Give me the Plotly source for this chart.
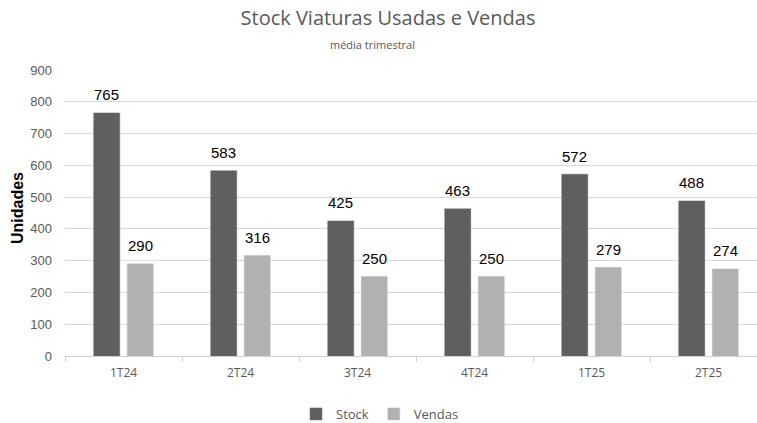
import plotly.graph_objects as go

categories = ["1T24", "2T24", "3T24", "4T24", "1T25", "2T25"]
stock = [765, 583, 425, 463, 572, 488]
vendas = [290, 316, 250, 250, 279, 274]
y_ticks = [0, 100, 200, 300, 400, 500, 600, 700, 800, 900]

W, H = 757, 423
L, R, T, B = 65, 0, 70, 67
pw = W - L - R
ph = H - T - B
CAT_W = 117.0

fig = go.Figure()
fig.add_trace(go.Bar(
    x=categories, y=stock, name="Stock",
    marker=dict(color="#5f5f5f", line=dict(color="#6a6a6a", width=0.5)),
))
fig.add_trace(go.Bar(
    x=categories, y=vendas, name="Vendas",
    marker=dict(color="#b1b1b1", line=dict(color="#bcbcbc", width=0.5)),
))

label_font = dict(family="Liberation Sans, Arial", size=15, color="#000000")
for series, shift in ((stock, -16.75), (vendas, 16.75)):
    for c, v in zip(categories, series):
        fig.add_annotation(x=c, y=v, xref="x", yref="y", text=str(v),
                           showarrow=False, xshift=shift, yshift=18,
                           xanchor="center", yanchor="middle", font=label_font)

fig.update_layout(
    width=W, height=H,
    margin=dict(l=L, r=R, t=T, b=B, autoexpand=False),
    paper_bgcolor="white", plot_bgcolor="white",
    barmode="group", bargap=0.427, bargroupgap=0.224,
    title=dict(text="Stock Viaturas Usadas e Vendas",
               font=dict(family="Open Sans", size=20, color="#595959"),
               x=388 / W, xanchor="center", y=1 - 18 / H, yanchor="middle",
               xref="container", yref="container"),
    showlegend=True,
    legend=dict(orientation="h", x=(380 - L) / pw, xanchor="center",
                yref="container", y=1 - 414 / H, yanchor="middle",
                font=dict(family="Open Sans", size=13, color="#595959"),
                itemwidth=30, traceorder="normal"),
    font=dict(family="Liberation Sans, Arial", color="#595959"),
)

fig.update_xaxes(
    type="category", range=[-0.5, -0.5 + pw / CAT_W],
    showline=True, linecolor="#d0d0d0", linewidth=1,
    ticks="outside", tickson="boundaries", ticklen=5, tickcolor="#d0d0d0",
    tickfont=dict(family="Open Sans", size=12, color="#595959"),
    ticklabelstandoff=6,
    showgrid=False, zeroline=False, automargin=False,
)
fig.update_yaxes(
    range=[0, 900], tickvals=y_ticks,
    showgrid=True, gridcolor="#d9d9d9", gridwidth=1,
    zeroline=False, showline=False,
    tickfont=dict(family="Liberation Sans, Arial", size=13, color="#595959"),
    ticks="", ticklabelstandoff=12, automargin=False,
)

fig.add_annotation(text="média trimestral", xref="paper", yref="paper",
                   x=(372 - L) / pw, y=(ph - (45 - T)) / ph,
                   xanchor="center", yanchor="middle", showarrow=False,
                   font=dict(family="Open Sans", size=11, color="#595959"))
fig.add_annotation(text="<b>Unidades</b>", xref="paper", yref="paper",
                   x=(17 - L) / pw, y=(ph - (208 - T)) / ph, textangle=-90,
                   xanchor="center", yanchor="middle", showarrow=False,
                   font=dict(family="Liberation Sans, Arial", size=16, color="#000000"))

fig.write_html("out.html", config={"displayModeBar": False},
               post_script="document.body.style.margin='0';document.body.style.padding='0';")
